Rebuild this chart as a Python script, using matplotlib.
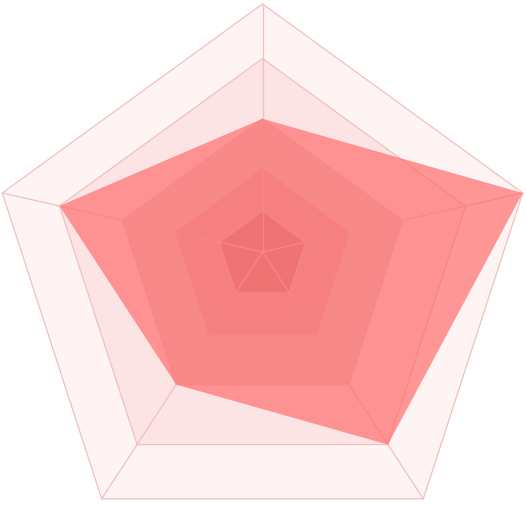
import numpy as np
import matplotlib
matplotlib.use("Agg")
import matplotlib.pyplot as plt
from matplotlib.patches import Polygon

# indicateurs (sens horaire depuis le haut) et valeurs du graphe
indicators = ['A', 'B', 'C', 'D', 'E']
values = [3, 5, 4, 3, 4]

# niveaux de la grille et rayon relatif de chaque anneau
levels = [0, 1, 2, 3, 4, 5]
level_radius = [0.0, 0.166, 0.337, 0.537, 0.780, 1.0]

# couleurs des bandes (de l'extérieur vers le centre)
band_colors = ['#fff4f4', '#fce4e4', '#eccdcd', '#e6aeae', '#d48c8c']
line_color = '#f0c0c0'
data_color = (1.0, 104/255, 104/255, 0.67)

k = 0.0933  # décalage du centre des anneaux
n = len(indicators)
theta = np.radians(np.arange(n) * 360.0 / n)
dirs = np.column_stack([np.sin(theta), np.cos(theta) - k])

def ring(r):
    return dirs * r

cx, cy, R = 262.5, 253.0, 273.6  # centre et rayon en pixels
fig = plt.figure(figsize=(5.26, 5.06), dpi=100)
ax = fig.add_axes([0, 0, 1, 1])
ax.set_xlim(-cx/R, (526-cx)/R)
ax.set_ylim((cy-506)/R, cy/R)
ax.set_aspect('equal')
ax.axis('off')

# bandes
for i, c in zip(range(len(levels)-1, 0, -1), band_colors):
    ax.add_patch(Polygon(ring(level_radius[i]), closed=True, fc=c, ec='none', zorder=1))

# contours et axes
for i in range(1, len(levels)):
    ax.add_patch(Polygon(ring(level_radius[i]), closed=True, fc='none',
                         ec=line_color, lw=0.9, zorder=2))
for d in dirs:
    ax.plot([0, d[0]], [0, d[1]], color=line_color, lw=0.9, zorder=2)

# série
r_data = np.interp(values, levels, level_radius)
pts = dirs * r_data[:, None]
ax.add_patch(Polygon(pts, closed=True, fc=data_color, ec='none', zorder=3))

fig.savefig('out.png', dpi=100)
